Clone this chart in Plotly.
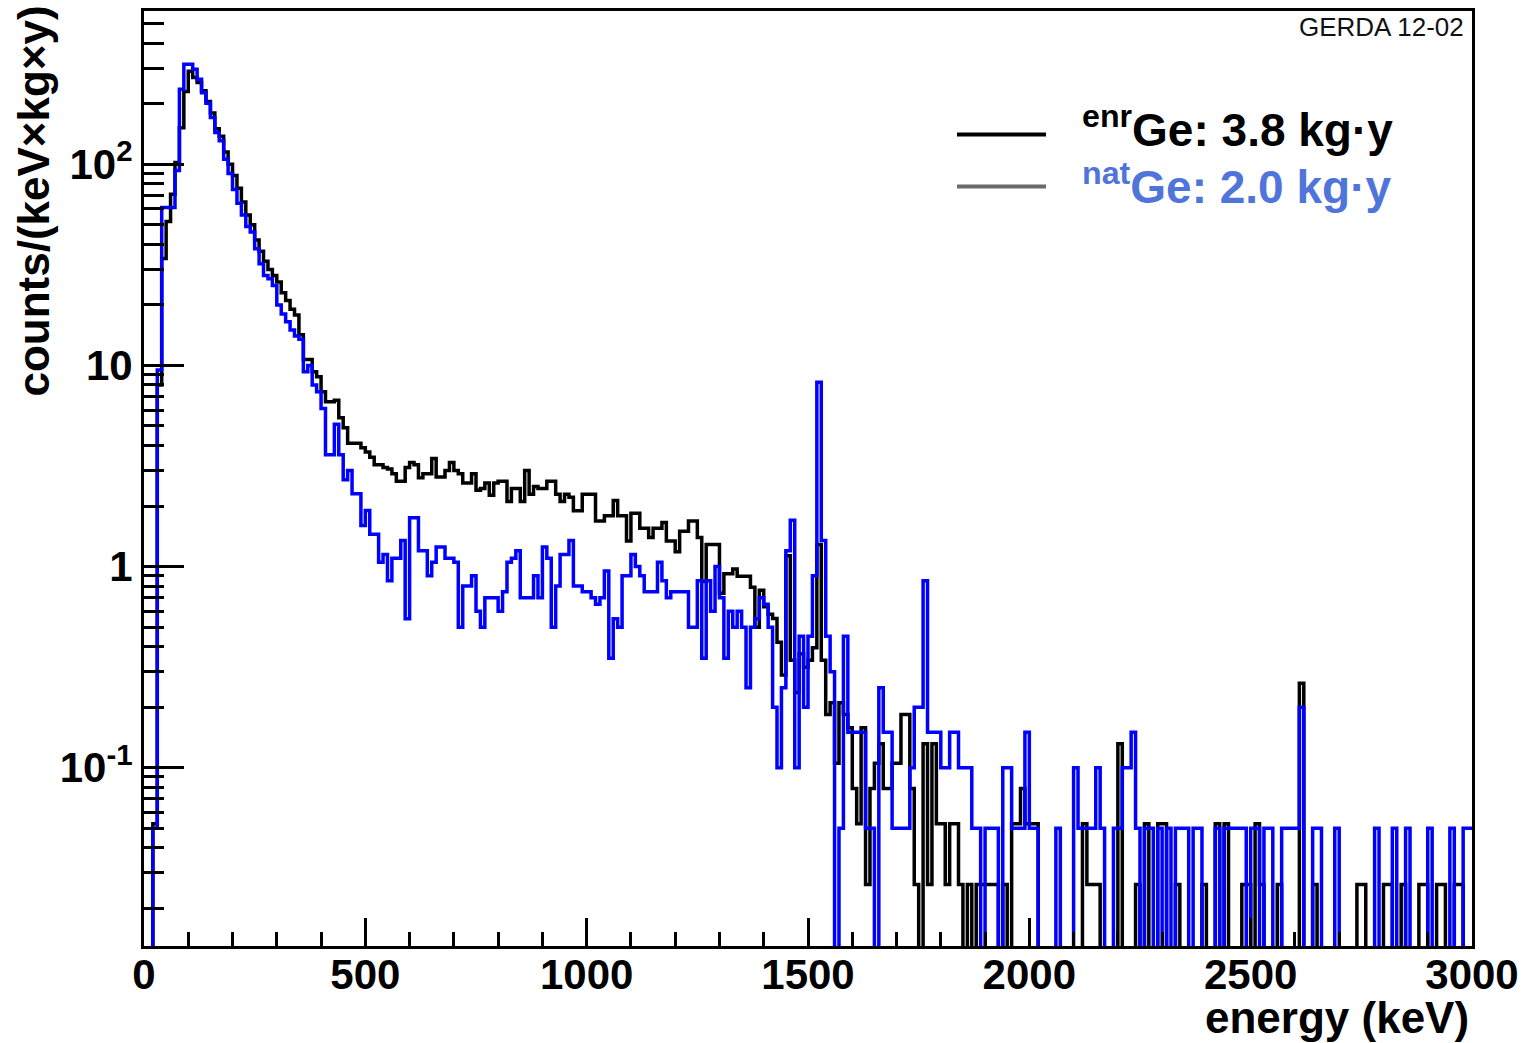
import numpy as np
import plotly.graph_objects as go

# ---------------------------------------------------------------------------
# GERDA background spectra, 10 keV bins from 0 to 3000 keV
# counts per bin for the enriched (3.8 kg·y) and natural (2.0 kg·y) detectors
# ---------------------------------------------------------------------------
BIN_WIDTH = 10.0          # keV
E_MIN, E_MAX = 0.0, 3000.0
EXPOSURE_ENR = 3.8        # kg·y
EXPOSURE_NAT = 2.0        # kg·y

enr_counts = [
    0, 0, 2, 304, 1292, 1976, 2698, 3876, 5776, 8740,
    11020, 10260, 9690, 8816, 7790, 6840, 5700, 5244, 4370, 3800,
    3344, 2888, 2470, 2128, 1900, 1596, 1406, 1254, 1140, 1064,
    988, 874, 798, 722, 676, 540, 407, 407, 353, 334,
    281, 251, 251, 255, 209, 186, 156, 156, 156, 148,
    141, 133, 122, 122, 118, 116, 110, 101, 101, 118,
    125, 122, 105, 110, 110, 131, 106, 106, 114, 125,
    114, 110, 99, 99, 110, 91, 93, 99, 86, 99,
    101, 101, 80, 93, 93, 80, 114, 87, 95, 93,
    93, 101, 101, 87, 80, 87, 84, 72, 72, 87,
    87, 87, 64, 64, 68, 68, 81, 68, 68, 51,
    70, 70, 59, 59, 53, 59, 59, 63, 51, 51,
    45, 57, 57, 64, 64, 53, 32, 49, 49, 49,
    28, 35, 35, 37, 34, 34, 34, 30, 19, 29,
    24, 22, 21, 16, 11, 43, 13, 9, 14, 12,
    13, 15, 49, 13, 7, 8, 4, 8, 7, 6,
    3, 2, 6, 1, 3, 4, 5, 3, 3, 4,
    4, 7, 7, 3, 1, 0, 5, 1, 5, 2,
    2, 1, 2, 2, 1, 0, 1, 0, 1, 1,
    1, 1, 1, 0, 1, 0, 2, 2, 3, 2,
    2, 2, 0, 0, 0, 0, 0, 0, 0, 0,
    0, 0, 2, 1, 1, 1, 0, 0, 0, 0,
    5, 0, 0, 0, 1, 0, 2, 0, 0, 2,
    2, 0, 0, 1, 0, 0, 0, 0, 0, 1,
    0, 0, 2, 0, 2, 0, 0, 0, 1, 1,
    0, 2, 1, 0, 0, 0, 1, 0, 0, 0,
    0, 10, 0, 0, 1, 0, 0, 0, 0, 0,
    0, 0, 0, 0, 1, 1, 0, 0, 0, 0,
    1, 1, 0, 0, 1, 0, 0, 0, 1, 1,
    0, 0, 1, 1, 0, 0, 1, 1, 0, 0,
]

nat_counts = [
    0, 0, 1, 190, 1220, 1220, 1220, 1860, 4720, 6280,
    6280, 5940, 5300, 4540, 4020, 3420, 2880, 2620, 2120, 1800,
    1500, 1280, 1120, 980, 920, 760, 640, 560, 540, 500,
    400, 360, 330, 300, 280, 270, 186, 200, 160, 148,
    122, 72, 72, 102, 72, 54, 60, 46, 46, 32,
    38, 29, 29, 21, 23, 17, 22, 22, 27, 11,
    35, 35, 24, 24, 18, 21, 25, 25, 22, 22,
    21, 10, 16, 16, 18, 12, 10, 14, 14, 14,
    12, 15, 21, 22, 24, 14, 14, 14, 18, 14,
    25, 22, 10, 16, 23, 23, 27, 16, 16, 15,
    15, 14, 13, 14, 19, 7, 11, 10, 18, 18,
    23, 20, 18, 15, 15, 15, 21, 17, 14, 15,
    15, 15, 15, 10, 10, 17, 7, 17, 12, 20,
    14, 7, 12, 10, 12, 10, 5, 10, 11, 14,
    13, 10, 4, 2, 5, 24, 34, 2, 9, 4,
    9, 18, 165, 27, 9, 6, 0, 1, 9, 3,
    3, 3, 3, 1, 1, 0, 5, 3, 3, 1,
    1, 1, 1, 2, 4, 4, 17, 3, 3, 3,
    2, 2, 3, 3, 2, 2, 2, 1, 1, 0,
    1, 1, 1, 0, 2, 2, 1, 1, 1, 3,
    1, 1, 0, 0, 0, 0, 1, 0, 0, 0,
    2, 1, 1, 1, 1, 2, 1, 0, 0, 1,
    1, 2, 2, 3, 1, 0, 1, 1, 0, 1,
    0, 1, 0, 1, 1, 1, 0, 1, 1, 0,
    0, 0, 1, 0, 1, 1, 1, 1, 1, 0,
    1, 1, 0, 1, 1, 0, 0, 1, 1, 1,
    1, 4, 0, 0, 1, 1, 0, 0, 0, 1,
    0, 0, 0, 0, 0, 0, 0, 0, 1, 0,
    0, 0, 1, 0, 0, 1, 0, 0, 0, 0,
    1, 0, 0, 0, 0, 1, 0, 0, 1, 1,
]

x_tick_values = [0, 500, 1000, 1500, 2000, 2500, 3000]
x_tick_labels = ["0", "500", "1000", "1500", "2000", "2500", "3000"]
y_tick_values = [0.1, 1, 10, 100]
y_tick_labels = ["10<sup>-1</sup>", "1", "10", "10<sup>2</sup>"]

legend_labels = ["<sup>enr</sup>Ge: 3.8 kg·y", "<sup>nat</sup>Ge: 2.0 kg·y"]

# ---------------------------------------------------------------------------
edges = np.arange(E_MIN, E_MAX + BIN_WIDTH / 2, BIN_WIDTH)
Y_MIN, Y_MAX = 0.013, 578.0
FLOOR = 1e-5   # empty bins are drawn far below the visible range


def rate(counts, exposure):
    r = np.asarray(counts, dtype=float) / (exposure * BIN_WIDTH)
    r = np.where(r > 0, r, FLOOR)
    return np.append(r, r[-1])   # repeat last value to close the final step


FONT = "Liberation Sans, Arial, Helvetica, sans-serif"
W, H = 1536, 1043
ML, MR, MT, MB = 144, 64, 8, 97
PW, PH = W - ML - MR, H - MT - MB


def px(x, y):
    """pixel position -> paper coordinates"""
    return (x - ML) / PW, (H - MB - y) / PH


fig = go.Figure()
fig.add_trace(go.Scatter(
    x=edges, y=rate(enr_counts, EXPOSURE_ENR), mode="lines",
    line=dict(shape="hv", color="#000000", width=3.5), hoverinfo="skip",
))
fig.add_trace(go.Scatter(
    x=edges, y=rate(nat_counts, EXPOSURE_NAT), mode="lines",
    line=dict(shape="hv", color="#0000ff", width=3.5), hoverinfo="skip",
))

minor_y = [m * 10.0 ** k for k in range(-2, 3) for m in range(2, 10)
           if Y_MIN <= m * 10.0 ** k <= Y_MAX]

fig.update_xaxes(
    range=[E_MIN, E_MAX], tickmode="array", tickvals=x_tick_values, ticktext=x_tick_labels,
    ticks="inside", ticklen=28, tickwidth=3, tickcolor="black",
    minor=dict(ticks="inside", dtick=100, ticklen=14, tickwidth=3, tickcolor="black"),
    showline=True, linewidth=3, linecolor="black", mirror=True,
    showgrid=False, zeroline=False, ticklabelstandoff=-10,
    tickfont=dict(family=FONT, size=42, color="black", weight="bold"),
)
fig.update_yaxes(
    type="log", range=[np.log10(Y_MIN), np.log10(Y_MAX)],
    tickmode="array", tickvals=y_tick_values, ticktext=y_tick_labels,
    ticks="inside", ticklen=40, tickwidth=3, tickcolor="black",
    minor=dict(ticks="inside", tickvals=minor_y, ticklen=20, tickwidth=3, tickcolor="black"),
    showline=True, linewidth=3, linecolor="black", mirror=True,
    showgrid=False, zeroline=False,
    tickfont=dict(family=FONT, size=42, color="black", weight="bold"),
)

annotations = []
# axis titles
ax, ay = px(34, 1)
annotations.append(dict(
    text="counts/(keV×kg×y)", xref="paper", yref="paper", x=ax, y=ay,
    xanchor="center", yanchor="top", textangle=-90, showarrow=False,
    font=dict(family=FONT, size=44, color="black", weight="bold"),
))
ax, ay = px(1471, 1018)
annotations.append(dict(
    text="energy (keV)", xref="paper", yref="paper", x=ax, y=ay,
    xanchor="right", yanchor="middle", showarrow=False,
    font=dict(family=FONT, size=44, color="black", weight="bold"),
))
# plot tag
ax, ay = px(1466, 24)
annotations.append(dict(
    text="GERDA 12-02", xref="paper", yref="paper", x=ax, y=ay,
    xanchor="right", yanchor="middle", showarrow=False,
    font=dict(family=FONT, size=26, color="#111111"),
))

# legend
legend_line_colors = ["#000000", "#6b6b6b"]
legend_text_colors = ["#000000", "#4f74da"]
legend_rows_y = [132, 184]
legend_text_y = [124, 182]
shapes = []
for lbl, lc, tc, yy, ty_px in zip(legend_labels, legend_line_colors, legend_text_colors,
                                  legend_rows_y, legend_text_y):
    x0, y0 = px(957, yy)
    x1, _ = px(1046, yy)
    shapes.append(dict(type="line", xref="paper", yref="paper", x0=x0, x1=x1, y0=y0, y1=y0,
                       line=dict(color=lc, width=4)))
    tx, ty = px(1080, ty_px)
    annotations.append(dict(
        text=lbl, xref="paper", yref="paper", x=tx, y=ty,
        xanchor="left", yanchor="middle", showarrow=False,
        font=dict(family=FONT, size=46, color=tc, weight="bold"),
    ))

fig.update_layout(
    width=W, height=H, margin=dict(l=ML, r=MR, t=MT, b=MB),
    paper_bgcolor="white", plot_bgcolor="white", showlegend=False,
    annotations=annotations, shapes=shapes,
)

fig.write_html("out.html")
